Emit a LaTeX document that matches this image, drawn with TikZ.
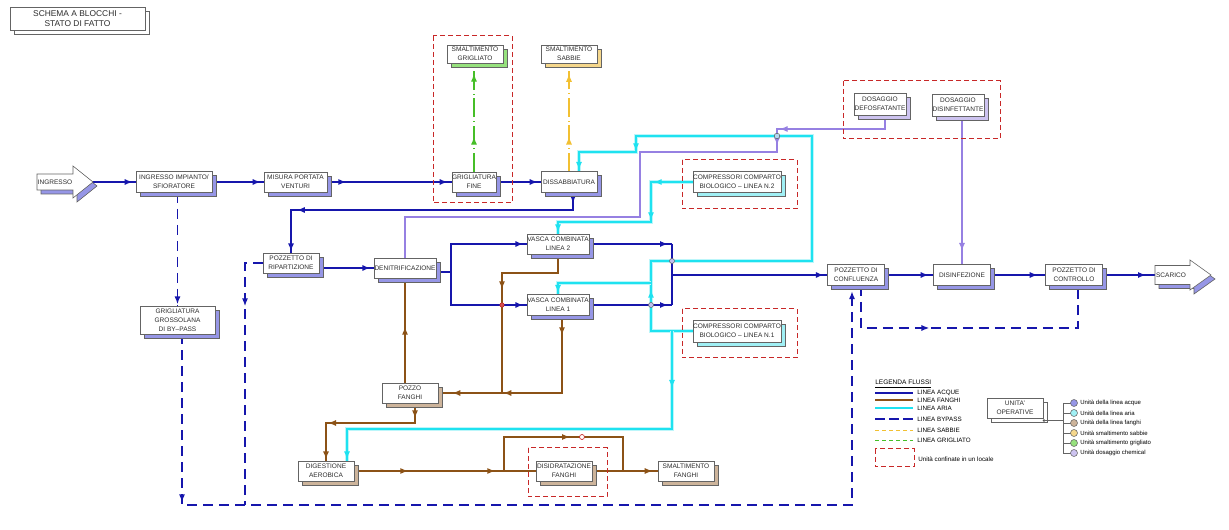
\documentclass[tikz,border=0pt]{standalone}
\usepackage{fontspec}
\setmainfont{Liberation Sans}
\usetikzlibrary{arrows.meta,decorations.markings,shadows}
\pgfdeclarelayer{bg}
\pgfsetlayers{bg,main}
\definecolor{acq}{RGB}{22,22,172}
\definecolor{fan}{RGB}{140,82,22}
\definecolor{ari}{RGB}{30,226,240}
\definecolor{chm}{RGB}{150,128,226}
\definecolor{grn}{RGB}{70,190,40}
\definecolor{yel}{RGB}{242,192,50}
\definecolor{rdb}{RGB}{200,40,40}
\definecolor{sAcq}{RGB}{150,150,230}
\definecolor{sFan}{RGB}{205,180,155}
\definecolor{sAri}{RGB}{160,240,245}
\definecolor{sGrn}{RGB}{150,225,125}
\definecolor{sYel}{RGB}{245,215,140}
\definecolor{sChm}{RGB}{205,195,240}
\definecolor{bord}{RGB}{100,100,100}
\definecolor{txt}{RGB}{45,45,45}
\tikzset{
 blk/.style={draw=bord, line width=0.45pt, fill=white, inner sep=0pt, align=center, text=txt,
   copy shadow={shadow xshift=3pt, shadow yshift=-3pt, fill=#1, draw=bord, line width=0.45pt}},
 ma/.style={postaction={decorate, decoration={markings, mark=at position #1 with {\arrow{Latex[length=6pt,width=4.6pt]}}}}},
 aq/.style={draw=acq, line width=1.2pt},
 fg/.style={draw=fan, line width=1.15pt},
 ar/.style={draw=ari, line width=1.05pt, preaction={draw=ari!30, line width=2.5pt}},
 ch/.style={draw=chm, line width=0.95pt},
 bp/.style={draw=acq, line width=1.25pt, dash pattern=on 7.5pt off 4.5pt},
 gl/.style={draw=grn, line width=0.95pt, dash pattern=on 14pt off 3pt on 0.5pt off 3pt},
 yl/.style={draw=yel, line width=0.95pt, dash pattern=on 14pt off 3pt on 0.5pt off 3pt},
 rd/.style={draw=rdb, line width=0.75pt, dash pattern=on 3.75pt off 2.25pt},
 lg/.style={anchor=west, inner sep=0pt, font=\fontsize{4.7}{5.5}\selectfont, text=black},
}
\begin{document}
\begin{tikzpicture}[x=0.75pt, y=-0.75pt, font=\fontsize{4.9}{6.7}\selectfont]
\useasboundingbox (0,0) rectangle (1229,530);

% title
\node[blk=white, minimum width=101.25pt, minimum height=17.25pt, font=\fontsize{6.3}{7.6}\selectfont] (tit) at (77.5,18.5) {SCHEMA A BLOCCHI -\\STATO DI FATTO};

% ingresso / scarico arrows
\filldraw[draw=bord, fill=sAcq, line width=0.45pt, shift={(4,4)}] (37,174) -- (73,174) -- (73,166) -- (93,182) -- (73,198) -- (73,190) -- (37,190) -- cycle;
\filldraw[draw=bord, fill=white, line width=0.45pt] (37,174) -- (73,174) -- (73,166) -- (93,182) -- (73,198) -- (73,190) -- (37,190) -- cycle;
\node[text=txt] (ingr) at (55,182) {INGRESSO};
\coordinate (ingrtip) at (93,182);
\filldraw[draw=bord, fill=sAcq, line width=0.45pt, shift={(4,4)}] (1155,265.5) -- (1190,265.5) -- (1190,260) -- (1211,275) -- (1190,290) -- (1190,284.5) -- (1155,284.5) -- cycle;
\filldraw[draw=bord, fill=white, line width=0.45pt] (1155,265.5) -- (1190,265.5) -- (1190,260) -- (1211,275) -- (1190,290) -- (1190,284.5) -- (1155,284.5) -- cycle;
\node[text=txt] (scar) at (1171,275) {SCARICO};
\coordinate (scartail) at (1155,275);

% blocks
\node[blk=sAcq, minimum width=57pt, minimum height=15.75pt] (imp) at (174,182) {INGRESSO IMPIANTO/\\SFIORATORE};
\node[blk=sAcq, minimum width=47.25pt, minimum height=15pt] (mis) at (295.5,182) {MISURA PORTATA\\VENTURI};
\node[blk=sAcq, minimum width=33pt, minimum height=15pt] (grf) at (474,182) {GRIGLIATURA\\FINE};
\node[blk=sAcq, minimum width=42pt, minimum height=15.75pt] (dis) at (569,182) {DISSABBIATURA};
\node[blk=sGrn, minimum width=42pt, minimum height=13.5pt] (smg) at (475,54) {SMALTIMENTO\\GRIGLIATO};
\node[blk=sYel, minimum width=42pt, minimum height=13.5pt] (sms) at (569,54) {SMALTIMENTO\\SABBIE};
\node[blk=sAcq, minimum width=42pt, minimum height=15pt] (pzr) at (291,263) {POZZETTO DI\\RIPARTIZIONE};
\node[blk=sAcq, minimum width=46.5pt, minimum height=15pt] (den) at (405,268) {DENITRIFICAZIONE};
\node[blk=sAcq, minimum width=46.5pt, minimum height=15pt] (v2) at (558,244) {VASCA COMBINATA\\LINEA 2};
\node[blk=sAcq, minimum width=46.5pt, minimum height=15.75pt] (v1) at (558,305) {VASCA COMBINATA\\LINEA 1};
\node[blk=sAri, minimum width=66pt, minimum height=15.75pt] (c2) at (737,182) {COMPRESSORI COMPARTO\\BIOLOGICO -- LINEA N.2};
\node[blk=sAri, minimum width=66pt, minimum height=16.5pt] (c1) at (737,331) {COMPRESSORI COMPARTO\\BIOLOGICO -- LINEA N.1};
\node[blk=sChm, minimum width=39pt, minimum height=16.5pt] (ddf) at (880,104) {DOSAGGIO\\DEFOSFATANTE};
\node[blk=sChm, minimum width=39pt, minimum height=16.5pt] (ddi) at (958,105) {DOSAGGIO\\DISINFETTANTE};
\node[blk=sAcq, minimum width=42.75pt, minimum height=15.75pt] (pzc) at (856,275) {POZZETTO DI\\CONFLUENZA};
\node[blk=sAcq, minimum width=42.75pt, minimum height=15.75pt] (dsf) at (962,275) {DISINFEZIONE};
\node[blk=sAcq, minimum width=42.75pt, minimum height=15.75pt] (pzk) at (1074,275) {POZZETTO DI\\CONTROLLO};
\node[blk=sAcq, minimum width=56.25pt, minimum height=21pt] (grg) at (177.5,320) {GRIGLIATURA\\GROSSOLANA\\DI BY--PASS};
\node[blk=sFan, minimum width=42pt, minimum height=15pt] (pzf) at (410,393) {POZZO\\FANGHI};
\node[blk=sFan, minimum width=42pt, minimum height=15pt] (dig) at (326,471) {DIGESTIONE\\AEROBICA};
\node[blk=sFan, minimum width=42pt, minimum height=15pt] (dsd) at (564,471) {DISIDRATAZIONE\\FANGHI};
\node[blk=sFan, minimum width=42pt, minimum height=15pt] (smf) at (686,471) {SMALTIMENTO\\FANGHI};
\node[blk=white, minimum width=42pt, minimum height=15pt] (uop) at (1015,408) {UNITA'\\OPERATIVE};

% confined-unit boxes
\draw[rd] (433,36) rectangle (512,203);
\draw[rd] (843,81) rectangle (1000,139);
\draw[rd] (682,160) rectangle (797,209);
\draw[rd] (682,309) rectangle (797,358);
\draw[rd] (528,448) rectangle (607,497);

% junction coordinates
\coordinate (d1) at (573,210);
\coordinate (jd) at (451,272);
\coordinate (jv) at (672,275);
\coordinate (bl) at (182,505);
\coordinate (br) at (852,505);
\coordinate (bx) at (245,505);
\coordinate (bz) at (861,328);
\coordinate (bk) at (1078,328);
\coordinate (f2a) at (502,273);
\coordinate (jf) at (502,393);
\coordinate (f3a) at (562,393);
\coordinate (f4a) at (415,423);
\coordinate (f4b) at (326,423);
\coordinate (jg) at (504,471);
\coordinate (g1) at (504,437);
\coordinate (g2) at (623,437);
\coordinate (jh) at (623,471);
\coordinate (a1) at (651,331);
\coordinate (a2) at (651,261);
\coordinate (a3) at (812,261);
\coordinate (a4) at (812,136);
\coordinate (a5) at (636,136);
\coordinate (a6) at (636,152);
\coordinate (a7) at (579,152);
\coordinate (a8) at (651,283);
\coordinate (a9) at (558,283);
\coordinate (a10) at (672,331);
\coordinate (a11) at (672,429);
\coordinate (a12) at (347,429);
\coordinate (b1) at (651,182);
\coordinate (b2) at (651,222);
\coordinate (b3) at (558,222);
\coordinate (l0) at (885,129);
\coordinate (l1) at (777,129);
\coordinate (l2) at (777,152);
\coordinate (l3) at (640,152);
\coordinate (l4) at (640,217);
\coordinate (l5) at (405,217);

\begin{pgfonlayer}{bg}
\fill[white] (0,0) rectangle (1229,530);
% water line
\draw[aq, ma=-2.25pt] (ingrtip) -- (imp.west);
\draw[aq, ma=-2.25pt] (imp.east) -- (mis.west);
\draw[aq, ma=14.25pt, ma=-3pt] (mis.east) -- (grf.west);
\draw[aq, ma=-2.25pt] (grf.east) -- (dis.west);
\draw[aq, ma=8pt, ma=220pt, ma=-1pt] (dis.south -| d1) -- (d1) -| (pzr.north);
\draw[aq, ma=-2.5pt] (pzr.east |- den.west) -- (den.west);
\draw[aq] (den.east |- jd) -- (jd);
\draw[aq, ma=-2.5pt] (jd) |- (v2.west);
\draw[aq, ma=-2.5pt] (jd) |- (v1.west);
\draw[aq, ma=-3pt] (v2.east) -- (v2.east -| jv);
\draw[aq, ma=-3pt] (v1.east) -- (v1.east -| jv);
\draw[aq] (v2.east -| jv) -- (v1.east -| jv);
\draw[aq, ma=-2.5pt] (jv) -- (pzc.west);
\draw[aq, ma=-3.4pt] (pzc.east) -- (dsf.west);
\draw[aq, ma=-5.6pt] (dsf.east) -- (pzk.west);
\draw[aq, ma=-6.75pt] (pzk.east) -- (scartail);
% bypass
\draw[bp, ma=-1pt] (imp.south -| grg.north) -- (grg.north);
\draw[bp, ma=126pt, ma=-4pt] (grg.south -| bl) -- (bl) -- (br) -- (br |- pzc.south);
\draw[bp, ma=45.75pt] (pzr.west) -| (bx);
\draw[bp, ma=83pt] (pzc.south -| bz) -- (bz) -- (bk) -- (pzk.south -| bk);
% screenings / sand
\draw[gl, ma=26.25pt, ma=73.5pt] (grf.north) -- (grf.north |- smg.south);
\draw[yl, ma=26pt, ma=73pt] (dis.north) -- (dis.north |- sms.south);
% sludge
\draw[fg, ma=42pt] (den.south |- pzf.north) -- (den.south);
\draw[fg, ma=68.25pt, ma=-10.5pt] (v2.south) |- (f2a) -- (jf) -- (pzf.east);
\draw[fg, ma=14.6pt, ma=-1pt] (v1.south -| f3a) -- (f3a) -- (jf);
\draw[fg, ma=11.25pt, ma=80pt, ma=-1pt] (pzf.south -| f4a) -- (f4a) -- (f4b) -- (dig.north);
\draw[fg, ma=40.5pt, ma=105.75pt] (dig.east) -- (jg) -- (dsd.west);
\draw[fg, ma=75pt] (jg) -- (g1) -- (g2) -- (jh);
\draw[fg] (dsd.east) -- (jh);
\draw[fg, ma=-3.75pt] (jh) -- (smf.west);
% air
\draw[ar, ma=62.25pt, ma=441.75pt, ma=-1pt] (c1.west) -- (a1) -- (a2) -- (a3) -- (a4) -- (a5) -- (a6) -- (a7) -- (dis.north -| a7);
\draw[ar, ma=-1pt] (a8) -- (a9) -- (v1.north);
\draw[ar, ma=42.75pt, ma=-1pt] (a10) -- (a11) -- (a12) -- (dig.north -| a12);
\draw[ar, ma=29.25pt, ma=60pt, ma=-1pt] (c2.west) -- (b1) -- (b2) -- (b3) -- (v2.north);
% chemicals
\draw[ch, ma=89.25pt, ma=103.5pt] (ddf.south -| l0) -- (l0) -- (l1) -- (l2) -- (l3) -- (l4) -- (l5) -- (den.north);
\draw[ch, ma=-10pt] (ddi.south -| dsf.north) -- (dsf.north);
\end{pgfonlayer}

% junction dots
\filldraw[draw=bord, fill=sAri!50!sChm, line width=0.4pt] (777,136) circle (2.8);
\filldraw[draw=bord, fill=sAcq!60, line width=0.4pt] (672,261) circle (2.5);
\filldraw[draw=bord, fill=sAcq!60, line width=0.4pt] (651,305) circle (2.5);
\filldraw[draw=rdb, fill=rdb!80, line width=0.4pt] (502,305) circle (2.2);
\filldraw[draw=rdb, fill=white, line width=0.5pt] (582,437) circle (2.5);

% legend
\node[lg, font=\fontsize{4.9}{6}\selectfont] (lgt) at (875,384) {\underline{LEGENDA FLUSSI}};
\draw[acq, line width=0.9pt] (875,393) -- (913,393);
\node[lg] (lq1) at (917,393) {LINEA ACQUE};
\draw[fan, line width=0.9pt] (875,400) -- (913,400);
\node[lg] (lq2) at (917,400) {LINEA FANGHI};
\draw[ari, line width=0.9pt] (875,408) -- (913,408);
\node[lg] (lq3) at (917,408) {LINEA ARIA};
\draw[acq, line width=0.9pt, dash pattern=on 7.5pt off 3pt] (875,419) -- (913,419);
\node[lg] (lq4) at (917,419) {LINEA BYPASS};
\draw[yel, line width=0.7pt, dash pattern=on 3pt off 2.25pt] (875,430) -- (913,430);
\node[lg] (lq5) at (917,430) {LINEA SABBIE};
\draw[grn, line width=0.7pt, dash pattern=on 3pt off 2.25pt] (875,440) -- (913,440);
\node[lg] (lq6) at (917,440) {LINEA GRIGLIATO};
\draw[rd] (875,449) rectangle (914,467);
\node[lg] (lq7) at (918,459) {Unità confinate in un locale};

% unit tree
\fill[black!70] (1044,420.5) circle (1.3);
\draw[bord, line width=0.5pt] (1044,420.5) -- (1063,420.5);
\draw[bord, line width=0.5pt] (1063,403) -- (1063,453);
\foreach \yy/\cc/\lab in {403/sAcq/{Unità della linea acque}, 413/sAri/{Unità della linea aria}, 423/sFan/{Unità della linea fanghi}, 433/sYel/{Unità smaltimento sabbie}, 443/sGrn/{Unità smaltimento grigliato}, 453/sChm/{Unità dosaggio chemical}}{
  \draw[bord, line width=0.5pt] (1063,\yy) -- (1070.5,\yy);
  \filldraw[draw=bord, fill=\cc, line width=0.4pt] (1074,\yy) circle (3.5);
  \node[lg, font=\fontsize{4.5}{5.5}\selectfont] (u\yy) at (1080,\yy) {\lab};
}
\end{tikzpicture}
\end{document}
